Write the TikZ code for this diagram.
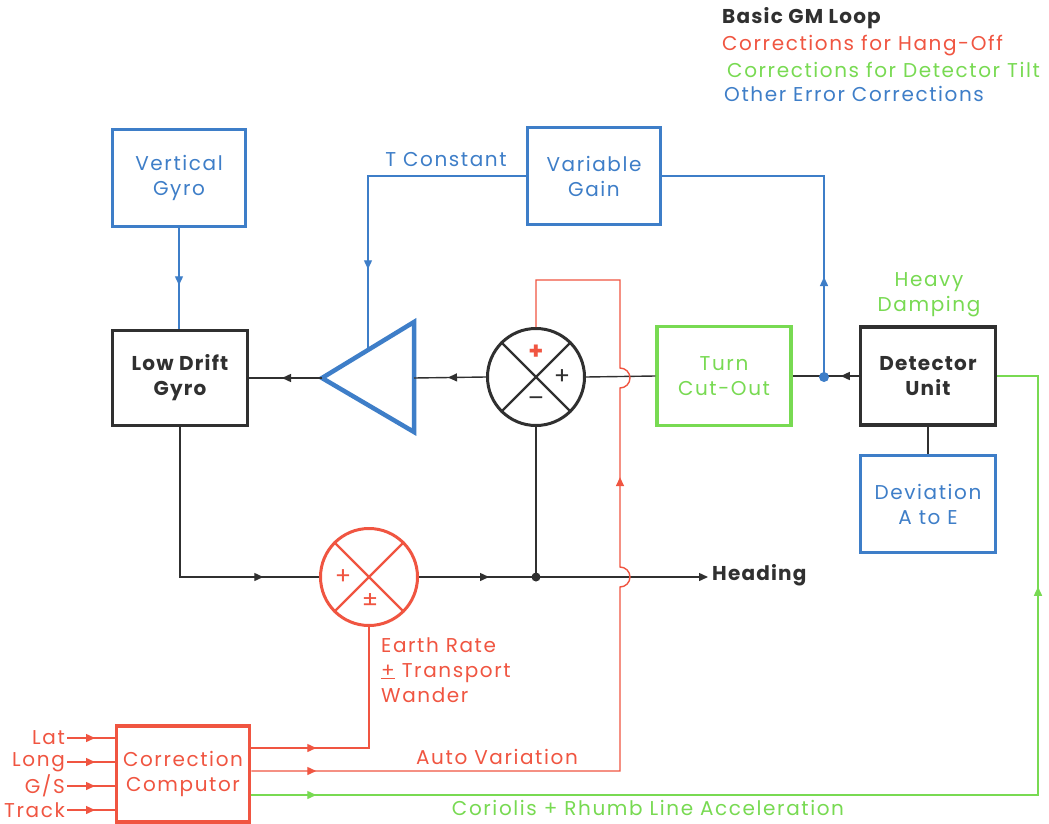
\documentclass[tikz,border=0pt]{standalone}
\usepackage{fontspec}
\setmainfont{Poppins}[LetterSpace=8,BoldFeatures={LetterSpace=6}]
\usetikzlibrary{arrows.meta,decorations.markings,calc}
\definecolor{cred}{RGB}{240,85,65}
\definecolor{cgreen}{RGB}{120,218,82}
\definecolor{cblue}{RGB}{62,126,200}
\definecolor{cblack}{RGB}{48,48,48}
\tikzset{
  tip/.tip={Triangle[length=9pt,width=8pt]},
  arr/.style={postaction={decorate,decoration={markings,mark=at position #1 with {\arrow{tip}}}}},
  ln/.style={draw=cblack,line width=1.4pt},
  rd/.style={draw=cred,line width=1.4pt},
  gr/.style={draw=cgreen,line width=1.4pt},
  bl/.style={draw=cblue,line width=1.4pt},
  box/.style={draw,rectangle,line width=3.5pt,minimum width=133pt,minimum height=97pt,align=center,inner sep=0pt},
  sumj/.style={draw,circle,line width=3pt,minimum size=97pt,inner sep=0pt},
  lbl/.style={inner sep=2pt,align=center},
}
\begin{document}
\begin{tikzpicture}[x=1pt,y=-1pt,font=\fontsize{20}{25}\selectfont]
\useasboundingbox[fill=white] (0,0) rectangle (1049,824);

% legend
\node[lbl,anchor=west,text=cblack] (lg1) at (720,18) {\bfseries Basic GM Loop};
\node[lbl,anchor=west,text=cred] (lg2) at (720,46) {Corrections for Hang-Off};
\node[lbl,anchor=west,text=cgreen] (lg3) at (725,70) {Corrections for Detector Tilt};
\node[lbl,anchor=west,text=cblue] (lg4) at (722,94) {Other Error Corrections};

% boxes
\node[box,draw=cblue,text=cblue] (vg) at (179,178) {Vertical\\Gyro};
\node[box,draw=cblack,text=cblack,minimum width=135pt,minimum height=95pt] (ldg) at (180,378) {\bfseries Low Drift\\\bfseries Gyro};
\node[box,draw=cblue,text=cblue] (vgain) at (594,176) {Variable\\Gain};
\node[box,draw=cgreen,text=cgreen,minimum width=134pt,minimum height=99pt] (tco) at (724,376) {Turn\\Cut-Out};
\node[box,draw=cblack,text=cblack,minimum width=135pt,minimum height=98pt] (det) at (928,376) {\bfseries Detector\\\bfseries Unit};
\node[box,draw=cblue,text=cblue,minimum width=135pt] (dev) at (928,504) {Deviation\\A to E};
\node[box,draw=cred,text=cred,minimum height=96pt] (cc) at (183,774) {Correction\\Computor};

% summing junctions
\node[sumj,draw=cblack] (s1) at (536,377) {};
\draw[cblack,line width=2.2pt] (s1.north east) -- (s1.south west) (s1.north west) -- (s1.south east);
\node[text=cred,font=\fontsize{24}{24}\selectfont\bfseries] (s1a) at (536,352) {+};
\node[text=cblack,font=\fontsize{24}{24}\selectfont] (s1b) at (562,377) {+};
\node[text=cblack,font=\fontsize{24}{24}\selectfont] (s1c) at (536,402) {–};

\node[sumj,draw=cred] (s2) at (369,577) {};
\draw[cred,line width=2.2pt] (s2.north east) -- (s2.south west) (s2.north west) -- (s2.south east);
\node[text=cred,font=\fontsize{24}{24}\selectfont] (s2a) at (343,577) {+};
\node[text=cred,font=\fontsize{24}{24}\selectfont] (s2b) at (370,601) {±};

% amplifier
\coordinate (amptip) at (322,378);
\coordinate (ampT) at (414,322);
\coordinate (ampB) at (414,432);
\coordinate (ampback) at (414,378);
\coordinate (ampedge) at (368,350);
\draw[draw=cblue,line width=4.5pt,line join=miter] (amptip) -- (ampT) -- (ampB) -- cycle;

% junction dots
\coordinate (bd) at (824,377);
\coordinate (hd) at (536,577);

% black loop
\draw[ln,arr=40pt] (amptip) -- (ldg.east |- amptip);
\draw[ln,arr=38pt] (s1.west) -- (ampback);
\draw[ln] (tco.west) -- (s1.east);
\draw[ln,arr=18pt] (det.west) -- (tco.east);
\draw[ln] (det.south) -- (dev.north);
\draw[ln,arr=233pt] (ldg.south) |- (s2.west);
\node[lbl,anchor=west,text=cblack,inner sep=4pt] (hdg) at (708,575) {\bfseries Heading};
\draw[ln,arr=70pt,-{tip}] (s2.east) -- (hdg.west |- s2.east);
\draw[ln] (hd) -- (s1.south);
\fill[cblack] (hd) circle (4.5pt);

% blue corrections
\draw[bl,arr=57pt] (vg.south) -- (vg.south |- ldg.north);
\draw[bl,arr=100pt] (bd) |- (vgain.east);
\draw[bl,arr=251pt] (vgain.west) -| (ampedge);
\fill[cblue] (bd) circle (5pt);
\node[lbl,text=cblue] (tc) at (446,160) {T Constant};

% red corrections
\draw[rd,arr=65pt] (cc.east |- 0,748) -| (s2.south);
\draw[rd,arr=65pt,arr=674pt] (cc.east |- 0,771) -- (620,771) -- (620,587)
   arc[start angle=90,end angle=-90,radius=10] -- (620,388)
   arc[start angle=90,end angle=-90,radius=10] -- (620,280) -| (s1.north);
\node[lbl,anchor=north west,text=cred,align=left] (er) at (379,635) {Earth Rate\\\underline{+} Transport\\Wander};
\node[lbl,text=cred] (av) at (497,757) {Auto Variation};

% inputs
\foreach \nm/\yy/\tx in {lat/738/Lat,long/762/Long,gs/786/G{/}S,trk/810/Track}{
  \node[lbl,anchor=east,text=cred] (\nm) at (67,\yy) {\tx};
  \draw[rd,arr=28pt] (\nm.east) -- (cc.west |- \nm.east);
}

% green corrections
\draw[gr,arr=65pt,arr=995pt] (cc.east |- 0,795) -- (1038,795) |- (det.east);
\node[lbl,text=cgreen] (hv) at (929,295) {Heavy\\Damping};
\node[lbl,text=cgreen] (cor) at (648,808) {Coriolis + Rhumb Line Acceleration};
\end{tikzpicture}
\end{document}
